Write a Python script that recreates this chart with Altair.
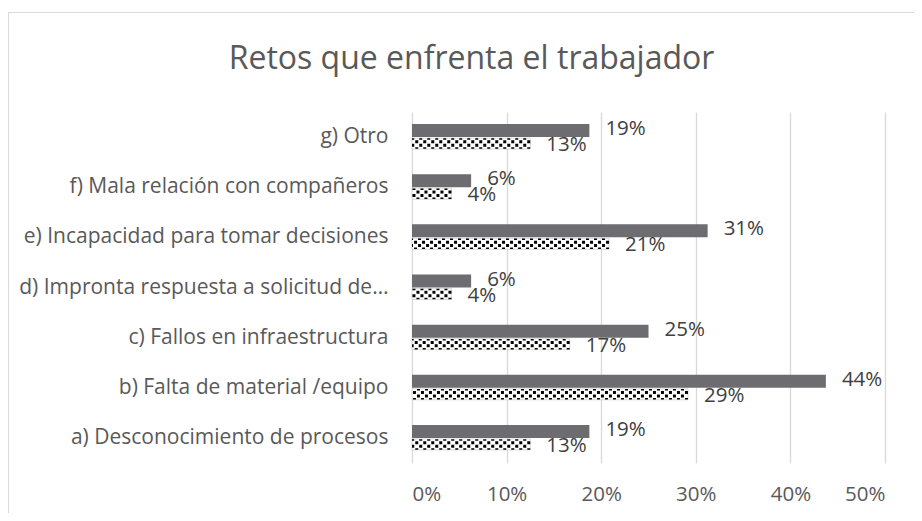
import altair as alt
import pandas as pd

categories = [
    "a) Desconocimiento de procesos",
    "b) Falta de material /equipo",
    "c) Fallos en infraestructura",
    "d) Impronta respuesta a solicitud de…",
    "e) Incapacidad para tomar decisiones",
    "f) Mala relación con compañeros",
    "g) Otro",
]
serie1 = [0.1875, 0.4375, 0.25, 0.0625, 0.3125, 0.0625, 0.1875]
serie2 = [0.125, 0.2917, 0.1667, 0.0417, 0.2083, 0.0417, 0.125]
x_ticks = [0, 0.1, 0.2, 0.3, 0.4, 0.5]

rows = []
for c, a, b in zip(categories, serie1, serie2):
    rows.append({"cat": c, "serie": "Serie 1", "value": a})
    rows.append({"cat": c, "serie": "Serie 2", "value": b})
df = pd.DataFrame(rows)

FONT = "Open Sans"
FS = 20.5
order = list(reversed(categories))

yenc = alt.Y(
    "cat:N",
    sort=order,
    scale=alt.Scale(paddingInner=0, paddingOuter=0),
    axis=alt.Axis(
        title=None, domain=False, ticks=False, labelPadding=24,
        labelFontSize=21, labelColor="#595959", labelFont=FONT, labelLimit=500,
    ),
)
xenc = alt.X(
    "value:Q",
    scale=alt.Scale(domain=[0, 0.5]),
    axis=alt.Axis(
        title=None, values=x_ticks, format=".0%", domain=False, ticks=False,
        grid=True, gridColor="#d9d9d9", gridWidth=1.3, labelPadding=21,
        labelFontSize=FS, labelColor="#595959", labelFont=FONT,
    ),
)

base = alt.Chart(df)
s1 = base.transform_filter(alt.datum.serie == "Serie 1")
s2 = base.transform_filter(alt.datum.serie == "Serie 2")

bar1 = s1.mark_bar(size=13, yOffset=-6.5, color="#6d6d71").encode(x=xenc, y=yenc)
bar2 = s2.mark_bar(size=11, yOffset=6.5, fill="white", stroke="#c8c8c8", strokeWidth=0.7).encode(x=xenc, y=yenc)

checker = []
for off, w, ph in [(2.0, 1.5, 4), (4.8, 3, 0), (8.2, 3, 4), (11.0, 1.5, 0)]:
    checker.append(
        s2.mark_rule(
            yOffset=off, strokeWidth=w, strokeDash=[3, 5],
            strokeDashOffset=ph, color="black",
        ).encode(x="value:Q", x2=alt.datum(0), y=alt.Y("cat:N", sort=order))
    )

lab1 = s1.mark_text(align="left", baseline="middle", dx=16, dy=-8, fontSize=FS,
                    color="#404040", font=FONT).encode(
    x="value:Q", y=alt.Y("cat:N", sort=order), text=alt.Text("value:Q", format=".0%"))
lab2 = s2.mark_text(align="left", baseline="middle", dx=16, dy=8, fontSize=FS,
                    color="#404040", font=FONT).encode(
    x="value:Q", y=alt.Y("cat:N", sort=order), text=alt.Text("value:Q", format=".0%"))

frame_top = alt.Chart(df).mark_rule(color="#d9d9d9", strokeWidth=1).encode(
    x=alt.value(-403.5), x2=alt.value(520), y=alt.value(-99.5))
frame_left = alt.Chart(df).mark_rule(color="#d9d9d9", strokeWidth=1).encode(
    x=alt.value(-403.5), y=alt.value(-99.5), y2=alt.value(420))

chart = alt.layer(bar1, bar2, *checker, lab1, lab2, frame_top, frame_left).properties(
    width=473,
    height=351,
    title=alt.TitleParams(
        "Retos que enfrenta el trabajador", fontSize=32, font=FONT, fontWeight="normal",
        color="#595959", anchor="middle", frame="group", dx=-177, offset=-64,
    ),
    autosize=alt.AutoSizeParams(type="none"),
    padding={"left": 404, "top": 104, "right": 29, "bottom": 50},
).configure_view(stroke=None)

chart.save("out.html", embed_options={"renderer": "svg", "actions": False})
